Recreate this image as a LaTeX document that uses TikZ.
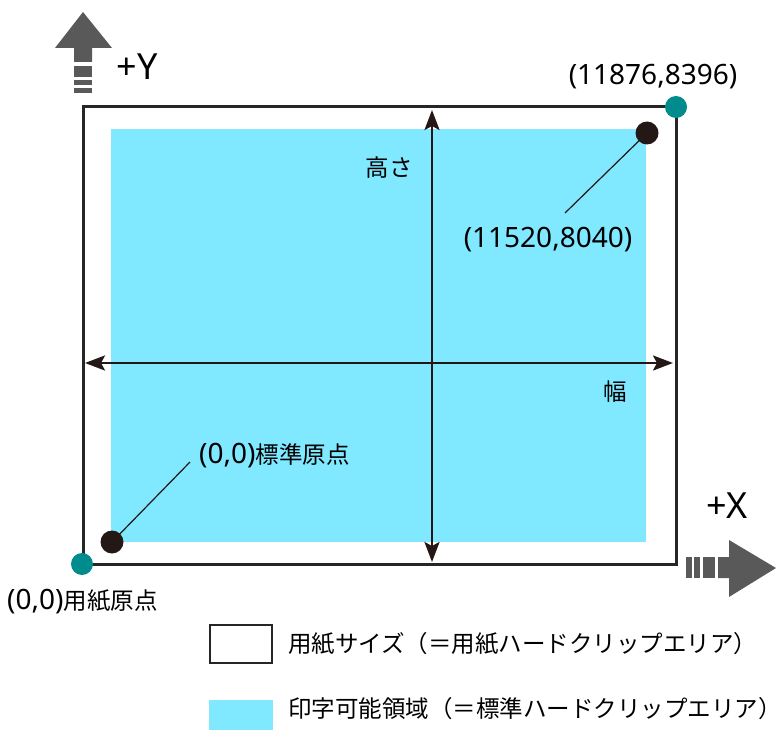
\documentclass[tikz,border=0pt]{standalone}
\usepackage{fontspec}
\setmainfont{Noto Sans CJK JP}
\newfontfamily\latinfont{Noto Sans}
\usetikzlibrary{arrows.meta}
\definecolor{cyanarea}{RGB}{128,232,255}
\definecolor{tealdot}{RGB}{0,140,140}
\definecolor{darkdot}{RGB}{35,24,21}
\definecolor{greyarrow}{RGB}{89,89,89}
\newcommand{\jpsize}{\fontsize{23.5}{24}\selectfont}
\tikzset{
  jp/.style={inner sep=0pt, font=\jpsize},
  legtext/.style={inner sep=0pt, font=\jpsize, text height=19pt, text depth=2pt, anchor=base west},
  num/.style={inner sep=0pt, font=\latinfont\fontsize{28}{28}\selectfont},
  axislbl/.style={inner sep=0pt, font=\latinfont\fontsize{36}{36}\selectfont},
  tealpt/.style={circle, fill=tealdot, minimum size=22pt, inner sep=0pt},
  darkpt/.style={circle, fill=darkdot, minimum size=23pt, inner sep=0pt},
  dimarrow/.style={line width=2.5pt, draw=darkdot, {Stealth[length=20pt,width=15pt,inset=4pt]}-{Stealth[length=20pt,width=15pt,inset=4pt]}},
  leader/.style={line width=1.2pt, draw=darkdot},
  paper/.style={draw=black!85, line width=3pt},
}
\begin{document}
\begin{tikzpicture}[x=1pt,y=-1pt]
\useasboundingbox (0,0) rectangle (779,730);
% printable area
\fill[cyanarea] (111,129) rectangle (646,542);
% paper
\draw[paper] (83,107) rectangle (676,564);
% dimension arrows
\coordinate (vt) at (432,110);
\coordinate (vb) at (432,562);
\coordinate (hl) at (85,363);
\coordinate (hr) at (673,363);
\draw[dimarrow] (vt) -- (vb);
\draw[dimarrow] (hl) -- (hr);
\node[jp] (height) at (389,168) {高さ};
\node[jp] (width) at (615,392) {幅};
% corner points
\node[tealpt] (p0) at (82,564) {};
\node[tealpt] (p1) at (676,107) {};
\node[darkpt] (s0) at (112,542) {};
\node[darkpt] (s1) at (647,133) {};
% labels
\node[num] (lp1) at (653,77) {(11876,8396)};
\node[num] (ls1) at (548,240) {(11520,8040)};
\node[num, anchor=west] (ls0) at (199,456) {(0,0)\normalfont\jpsize 標準原点};
\node[num, anchor=west] (lp0) at (7,602) {(0,0)\normalfont\jpsize 用紙原点};
\coordinate (ls0end) at (190,462);
\coordinate (ls1end) at (565,213);
\draw[leader] (s0.center) -- (ls0end);
\draw[leader] (s1.center) -- (ls1end);
% axis labels
\node[axislbl] (py) at (137,67) {+Y};
\node[axislbl] (px) at (727,506) {+X};
% +Y arrow
\fill[greyarrow] (83,12) -- (112,48) -- (92,48) -- (92,62) -- (74,62) -- (74,48) -- (55,48) -- cycle;
\fill[greyarrow] (74,66) rectangle (92,77);
\fill[greyarrow] (74,80) rectangle (92,85);
\fill[greyarrow] (74,88) rectangle (92,93);
% +X arrow
\fill[greyarrow] (776,568) -- (729,540) -- (729,557) -- (718,557) -- (718,578) -- (729,578) -- (729,597) -- cycle;
\fill[greyarrow] (703,557) rectangle (715,578);
\fill[greyarrow] (694,557) rectangle (700,578);
\fill[greyarrow] (686,557) rectangle (692,578);
% legend
\draw[line width=2.5pt, draw=black!85] (210,625) rectangle (272,663);
\node[legtext] (leg1) at (288,652) {用紙サイズ（＝用紙ハードクリップエリア）};
\fill[cyanarea] (209,700) rectangle (273,730);
\node[legtext] (leg2) at (288,717) {印字可能領域（＝標準ハードクリップエリア）};
\end{tikzpicture}
\end{document}
